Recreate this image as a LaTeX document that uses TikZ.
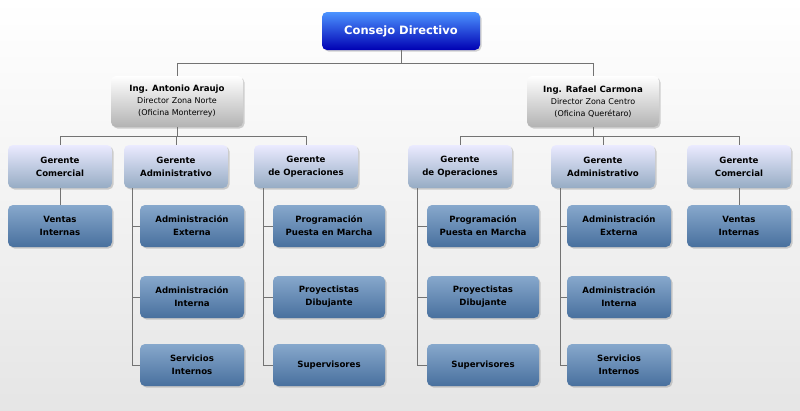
\documentclass[tikz,border=0pt]{standalone}
\usepackage{fontspec}
\setmainfont{DejaVu Sans}
\usetikzlibrary{shadows}
\begin{document}
\begin{tikzpicture}[x=1pt,y=-1pt,
  base/.style={rounded corners=5pt,align=center,inner sep=0pt,font=\bfseries\fontsize{8.6}{13}\selectfont,
     drop shadow={shadow xshift=1.5pt,shadow yshift=-1.5pt,opacity=0.35}},
  top/.style={base,top color=blue!60!cyan!70!white,bottom color=blue!70!black,text=white,font=\bfseries\fontsize{11.5}{14}\selectfont,minimum width=158pt,minimum height=38pt},
  dir/.style={base,top color=white,bottom color=black!30,minimum width=132pt,minimum height=51pt,font=\fontsize{8}{12}\selectfont},
  mgr/.style={base,top color=blue!8!white,bottom color={rgb,255:red,150;green,172;blue,196},minimum width=104pt,minimum height=43pt},
  leaf/.style={base,top color={rgb,255:red,135;green,168;blue,204},bottom color={rgb,255:red,72;green,112;blue,158},minimum width=104pt,minimum height=42pt},
  wide/.style={leaf,minimum width=112pt},
  ln/.style={draw=black!55,line width=0.8pt}]
\fill[top color=white,bottom color=black!10] (0,0) rectangle (800,410);
\useasboundingbox (0,0) rectangle (800,410);
\node[top] (c) at (401,31) {Consejo Directivo};
\node[dir] (a) at (177,101.5) {\textbf{\fontsize{8.6}{12}\selectfont Ing. Antonio Araujo}\\Director Zona Norte\\(Oficina Monterrey)};
\node[dir] (b) at (593,101.5) {\textbf{\fontsize{8.6}{12}\selectfont Ing. Rafael Carmona}\\Director Zona Centro\\(Oficina Querétaro)};
\node[mgr] (m1) at (60,166.5) {Gerente\\Comercial};
\node[mgr] (m2) at (176,166.5) {Gerente\\Administrativo};
\node[mgr] (m3) at (306,166.5) {Gerente\\de Operaciones};
\node[mgr] (m4) at (460,166.5) {Gerente\\de Operaciones};
\node[mgr] (m5) at (603,166.5) {Gerente\\Administrativo};
\node[mgr] (m6) at (739,166.5) {Gerente\\Comercial};
\node[leaf] (v1) at (60,226) {Ventas\\Internas};
\node[leaf] (v2) at (739,226) {Ventas\\Internas};
\node[leaf] (ae1) at (192,226) {Administración\\Externa};
\node[leaf] (ai1) at (192,297) {Administración\\Interna};
\node[leaf] (si1) at (192,365) {Servicios\\Internos};
\node[wide] (p1) at (329,226) {Programación\\Puesta en Marcha};
\node[wide] (d1) at (329,297) {Proyectistas\\Dibujante};
\node[wide] (s1) at (329,365) {Supervisores};
\node[wide] (p2) at (483,226) {Programación\\Puesta en Marcha};
\node[wide] (d2) at (483,297) {Proyectistas\\Dibujante};
\node[wide] (s2) at (483,365) {Supervisores};
\node[leaf] (ae2) at (619,226) {Administración\\Externa};
\node[leaf] (ai2) at (619,297) {Administración\\Interna};
\node[leaf] (si2) at (619,365) {Servicios\\Internos};
\draw[ln] (c.south) -- ++(0,13) -| (a.north);
\draw[ln] (c.south) ++(0,13) -| (b.north);
\draw[ln] (a.south) -- ++(0,9) -| (m1.north);
\draw[ln] (a.south) ++(0,9) -| (m3.north);
\draw[ln] (a.south) ++(0,9) -| (m2.north);
\draw[ln] (b.south) -- ++(0,9) -| (m4.north);
\draw[ln] (b.south) ++(0,9) -| (m6.north);
\draw[ln] (b.south) ++(0,9) -| (m5.north);
\draw[ln] (m1.south) -- (v1.north);
\draw[ln] (m6.south) -- (v2.north);
\draw[ln] (m2.south west) ++(9,0) |- (si1.west);
\draw[ln] (m2.south west) ++(9,0) |- (ai1.west);
\draw[ln] (m2.south west) ++(9,0) |- (ae1.west);
\draw[ln] (m3.south west) ++(10,0) |- (s1.west);
\draw[ln] (m3.south west) ++(10,0) |- (d1.west);
\draw[ln] (m3.south west) ++(10,0) |- (p1.west);
\draw[ln] (m4.south west) ++(10,0) |- (s2.west);
\draw[ln] (m4.south west) ++(10,0) |- (d2.west);
\draw[ln] (m4.south west) ++(10,0) |- (p2.west);
\draw[ln] (m5.south west) ++(10,0) |- (si2.west);
\draw[ln] (m5.south west) ++(10,0) |- (ai2.west);
\draw[ln] (m5.south west) ++(10,0) |- (ae2.west);
\end{tikzpicture}
\end{document}
